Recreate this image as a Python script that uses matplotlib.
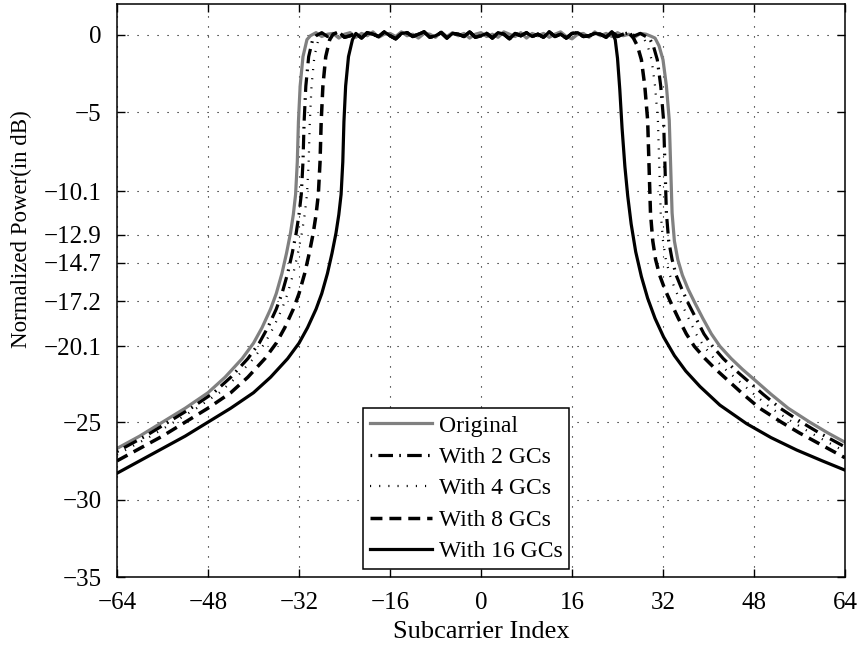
import numpy as np
import matplotlib
matplotlib.use("Agg")
import matplotlib.pyplot as plt

plt.rcParams['font.family'] = ['Liberation Serif', 'DejaVu Serif']
plt.rcParams['lines.scale_dashes'] = False

# ---- data (subcarrier index, dB) ----
band_x = np.arange(-30, 31)
ripple_gc = [0.10, -0.05, 0.15, -0.10, 0.05, 0.20, -0.15, -0.05, 0.10, -0.20,
             0.15, 0.05, -0.10, 0.20, -0.05, -0.25, 0.10, 0.15, -0.10, 0.05,
             0.20, -0.15, -0.05, 0.15, -0.20, 0.10, 0.05, -0.10, 0.20, -0.15,
             -0.05, 0.10, -0.20, 0.15, 0.05, -0.25, 0.10, -0.05, 0.15, -0.10,
             0.05, -0.15, 0.20, -0.10, 0.05, -0.20, 0.10, 0.15, -0.10, -0.05,
             0.10, 0.05, -0.15, 0.20, -0.10, 0.05, 0.15, -0.05, 0.10, -0.10,
             0.05]
ripple_orig = [-0.05, 0.15, -0.10, 0.05, 0.10, -0.20, 0.05, 0.15, -0.15, 0.10,
               -0.05, 0.20, -0.15, 0.05, 0.10, -0.10, 0.20, -0.05, 0.05, -0.20,
               0.10, 0.05, -0.15, 0.20, -0.10, 0.15, -0.05, 0.10, -0.20, 0.05,
               0.15, -0.10, 0.05, -0.15, 0.20, 0.05, -0.10, 0.15, -0.20, 0.10,
               -0.05, 0.10, -0.15, 0.05, 0.20, -0.10, -0.25, 0.05, 0.10, -0.15,
               0.20, -0.05, 0.10, -0.10, 0.15, -0.05, 0.05, -0.15, 0.10, 0.05,
               -0.10]

# Original
orig_left_x = [-64, -60, -56, -52, -48, -45, -42, -40, -38.5, -37, -36, -35, -34.2, -33.5, -33, -32.6, -32.3, -32.1, -31.8, -31.3, -30.6]
orig_left_y = [-26.7, -25.9, -25.0, -24.1, -23.1, -22.1, -20.9, -19.9, -18.9, -17.7, -16.7, -15.4, -14.1, -12.8, -11.6, -10.3, -8.2, -5.6, -3.3, -1.4, -0.3]
orig_right_x = [30.6, 31.3, 32.0, 32.6, 33.1, 33.35, 33.6, 34.0, 34.6, 35.4, 36.4, 37.6, 39.0, 40.5, 42.0, 44.0, 46.0, 48.2, 51.0, 54.0, 57.8, 61.0, 64.0]
orig_right_y = [-0.2, -0.7, -1.6, -3.3, -5.5, -8.5, -11.5, -13.3, -14.5, -15.5, -16.4, -17.3, -18.3, -19.3, -20.1, -20.9, -21.6, -22.3, -23.2, -24.1, -25.0, -25.7, -26.3]

# With 2 GCs
gc2_left_x = [-64, -63, -59, -55, -51, -47, -44, -41, -39, -37.5, -36, -35, -34, -33.2, -32.5, -32, -31.6, -31.3, -31.1, -30.8, -30.3, -29.6]
gc2_left_y = [-26.9, -26.7, -25.9, -25.0, -24.1, -23.1, -22.1, -20.9, -19.9, -18.9, -17.7, -16.7, -15.4, -14.1, -12.8, -11.6, -10.3, -8.2, -5.6, -3.3, -1.4, -0.3]
gc2_right_x = [29.6, 30.3, 31.0, 31.6, 32.1, 32.35, 32.6, 33.0, 33.6, 34.3, 35.3, 36.4, 37.8, 39.2, 40.7, 42.6, 44.6, 46.8, 49.6, 52.6, 56.3, 59.5, 62.5, 64.0]
gc2_right_y = [-0.2, -0.7, -1.6, -3.3, -5.5, -8.5, -11.5, -13.3, -14.5, -15.5, -16.4, -17.3, -18.3, -19.3, -20.1, -20.9, -21.6, -22.3, -23.2, -24.1, -25.0, -25.7, -26.3, -26.6]

# With 4 GCs
gc4_left_x = [-64, -62, -58, -54, -50, -46, -43, -40, -38, -36.5, -35, -34, -33, -32.2, -31.5, -31, -30.6, -30.3, -30.1, -29.8, -29.3, -28.6]
gc4_left_y = [-27.1, -26.7, -25.9, -25.0, -24.1, -23.1, -22.1, -20.9, -19.9, -18.9, -17.7, -16.7, -15.4, -14.1, -12.8, -11.6, -10.3, -8.2, -5.6, -3.3, -1.4, -0.3]
gc4_right_x = [28.6, 29.3, 30.0, 30.6, 31.1, 31.35, 31.6, 32.0, 32.5, 33.2, 34.1, 35.2, 36.5, 37.8, 39.2, 41.0, 43.0, 45.2, 48.0, 51.0, 54.8, 58.0, 61.0, 64.0]
gc4_right_y = [-0.2, -0.7, -1.6, -3.3, -5.5, -8.5, -11.5, -13.3, -14.5, -15.5, -16.4, -17.3, -18.3, -19.3, -20.1, -20.9, -21.6, -22.3, -23.2, -24.1, -25.0, -25.7, -26.3, -26.9]

# With 8 GCs
gc8_left_x = [-64, -60, -56, -52, -48, -44, -41, -38, -36, -34.5, -33, -32, -31, -30.2, -29.5, -29, -28.6, -28.3, -28.1, -27.8, -27.3, -26.6]
gc8_left_y = [-27.5, -26.7, -25.9, -25.0, -24.1, -23.1, -22.1, -20.9, -19.9, -18.9, -17.7, -16.7, -15.4, -14.1, -12.8, -11.6, -10.3, -8.2, -5.6, -3.3, -1.4, -0.3]
gc8_right_x = [26.8, 27.5, 28.2, 28.8, 29.3, 29.55, 29.8, 30.2, 30.7, 31.4, 32.3, 33.4, 34.7, 36.1, 37.5, 39.4, 41.3, 43.4, 46.1, 49.0, 52.8, 56.0, 59.0, 64.0]
gc8_right_y = [-0.2, -0.7, -1.6, -3.3, -5.5, -8.5, -11.5, -13.3, -14.5, -15.5, -16.4, -17.3, -18.3, -19.3, -20.1, -20.9, -21.6, -22.3, -23.2, -24.1, -25.0, -25.7, -26.3, -27.3]

# With 16 GCs
gc16_left_x = [-64, -60, -56, -52, -48, -44, -40, -37, -34, -32, -30.5, -29, -28, -27, -26.2, -25.5, -25, -24.6, -24.3, -24.1, -23.8, -23.3, -22.6]
gc16_left_y = [-28.3, -27.5, -26.7, -25.9, -25.0, -24.1, -23.1, -22.1, -20.9, -19.9, -18.9, -17.7, -16.7, -15.4, -14.1, -12.8, -11.6, -10.3, -8.2, -5.6, -3.3, -1.4, -0.3]
gc16_right_x = [23.6, 24.0, 24.4, 24.8, 25.3, 25.8, 26.4, 27.2, 28.2, 29.3, 30.6, 32.1, 34.0, 36.0, 38.5, 42.0, 46.7, 51.0, 55.5, 60.0, 64.0]
gc16_right_y = [-0.3, -1.5, -3.5, -6.0, -8.5, -10.4, -12.2, -14.0, -15.6, -17.0, -18.3, -19.5, -20.7, -21.7, -22.7, -23.9, -25.1, -26.0, -26.8, -27.5, -28.1]

labels = ['Original', 'With 2 GCs', 'With 4 GCs', 'With 8 GCs', 'With 16 GCs']
yticks = [-35, -30, -25, -20.1, -17.2, -14.7, -12.9, -10.1, -5, 0]
xticks = [-64, -48, -32, -16, 0, 16, 32, 48, 64]


def build(lx, ly, rx, ry, ripple):
    inside = (band_x > lx[-1]) & (band_x < rx[0])
    x = np.concatenate([lx, band_x[inside], rx])
    y = np.concatenate([ly, np.asarray(ripple)[inside], ry])
    return x, y


curves = [
    build(orig_left_x, orig_left_y, orig_right_x, orig_right_y, ripple_orig),
    build(gc2_left_x, gc2_left_y, gc2_right_x, gc2_right_y, ripple_gc),
    build(gc4_left_x, gc4_left_y, gc4_right_x, gc4_right_y, ripple_gc),
    build(gc8_left_x, gc8_left_y, gc8_right_x, gc8_right_y, ripple_gc),
    build(gc16_left_x, gc16_left_y, gc16_right_x, gc16_right_y, ripple_gc),
]
styles = [
    dict(color='#808080', lw=2.3, ls='-'),
    dict(color='black', lw=2.3, ls=(15.0, (10.5, 4.5, 1.2, 4.5))),
    dict(color='black', lw=1.6, ls=(0, (0.8, 5.8)), dash_capstyle='butt'),
    dict(color='black', lw=2.5, ls=(0, (8.6, 5.0))),
    dict(color='black', lw=2.3, ls='-'),
]

fig = plt.figure(figsize=(8.61, 6.46), dpi=100)
ax = fig.add_axes([117 / 861, 1 - 577 / 646, 728 / 861, 573 / 646])

for (x, y), st, lab in zip(curves, styles, labels):
    ax.plot(x, y, label=lab, **st)

ax.set_xlim(-64, 64)
ax.set_ylim(-35, 2)
ax.set_xticks(xticks)
ax.set_xticklabels([str(v).replace('-', '\u2212') for v in xticks])
ax.set_yticks(yticks)
ax.set_yticklabels([('%g' % v).replace('-', '\u2212') for v in yticks])
ax.tick_params(direction='in', length=6, width=1, top=True, right=True,
               labelsize=18)
ax.tick_params(axis='y', pad=11)
ax.tick_params(axis='x', pad=11)
for sp in ax.spines.values():
    sp.set_linewidth(1.1)
ax.grid(True, color='black', linestyle=(0, (0.8, 6.4)), linewidth=0.8)

ax.set_xlabel('Subcarrier Index', fontsize=19, labelpad=5)
ax.set_ylabel('Normalized Power(in dB)', fontsize=16.5)
ax.yaxis.set_label_coords(-0.117, 0.607)

leg = ax.legend(loc='upper left', bbox_to_anchor=(0.338, 0.295), borderaxespad=0,
                fontsize=17, handlelength=2.6, handletextpad=0.3, labelspacing=0.42,
                borderpad=0.3, fancybox=False, framealpha=1, edgecolor='black')
leg.get_frame().set_linewidth(1.1)

fig.savefig('out.png', dpi=100)
